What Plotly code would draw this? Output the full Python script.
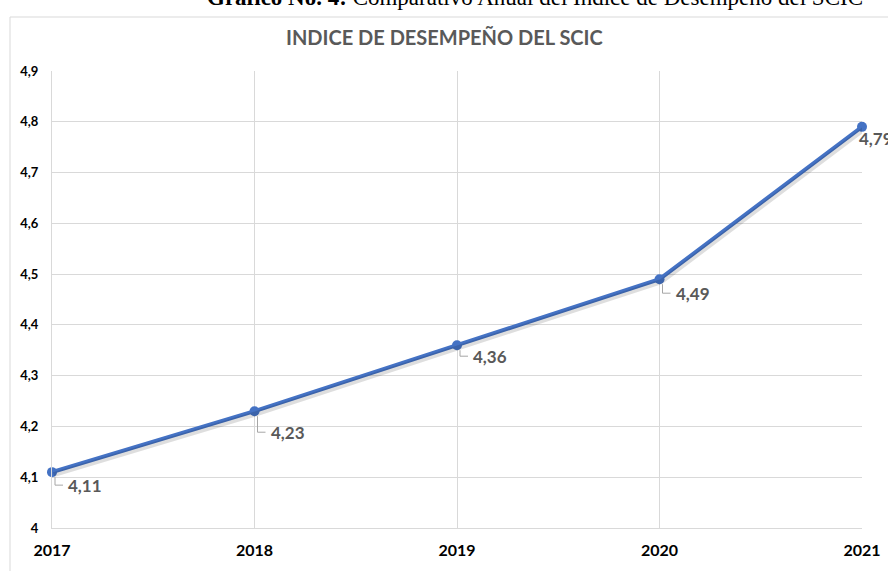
import plotly.graph_objects as go

years = [2017, 2018, 2019, 2020, 2021]
values = [4.11, 4.23, 4.36, 4.49, 4.79]
y_ticks = [4.0, 4.1, 4.2, 4.3, 4.4, 4.5, 4.6, 4.7, 4.8, 4.9]
title_text = "INDICE DE DESEMPEÑO DEL SCIC"
caption_bold = "Gráfico No. 4:"
caption_rest = " Comparativo Anual del Índice de Desempeño del SCIC"

W, H = 888, 571
ml, mr, mt, mb = 52, 26, 71, 43
pw, ph = W - ml - mr, H - mt - mb

def px_x(p):
    return (p - ml) / pw

def px_y(p):
    return (H - mb - p) / ph

font_main = "Lato, Carlito, Open Sans, sans-serif"
blue = "#4472C4"
gray_text = "#595959"
leader = "#A6A6A6"

# per-label drop (px below the point) as placed in the reference
label_drop = [13, 21, 11, 14, 12]

fig = go.Figure()
# soft shadow
fig.add_trace(go.Scatter(
    x=years, y=values, mode="lines",
    line=dict(color="rgba(0,0,0,0.13)", width=5),
    hoverinfo="skip", showlegend=False, cliponaxis=False,
    xaxis="x2", yaxis="y2"
))
fig.add_trace(go.Scatter(
    x=years, y=values, mode="lines+markers",
    line=dict(color=blue, width=4),
    marker=dict(size=10, color=blue),
    showlegend=False, cliponaxis=False
))

annotations = []
shapes = []
for i, (yr, v) in enumerate(zip(years, values)):
    lab = f"{v:.2f}".replace(".", ",")
    d = label_drop[i]
    if i < 4:
        annotations.append(dict(
            x=yr, y=v, xref="x", yref="y", text=lab,
            showarrow=False, xanchor="left", yanchor="middle",
            xshift=14, yshift=-d,
            font=dict(family=font_main, size=17, color=gray_text, weight="bold")
        ))
        shapes.append(dict(
            type="path", xref="x", yref="y", xsizemode="pixel", ysizemode="pixel",
            xanchor=yr, yanchor=v,
            path=f"M 3,-5 L 3,{-d} L 11,{-d}",
            line=dict(color=leader, width=1)
        ))
    else:
        annotations.append(dict(
            x=yr, y=v, xref="x", yref="y", text=lab,
            showarrow=False, xanchor="left", yanchor="middle",
            xshift=-5, yshift=-d,
            font=dict(family=font_main, size=17, color=gray_text, weight="bold")
        ))

annotations.append(dict(
    x=px_x(444), y=px_y(37), xref="paper", yref="paper",
    text=title_text, showarrow=False, xanchor="center", yanchor="middle",
    font=dict(family=font_main, size=20, color=gray_text, weight="bold")
))
annotations.append(dict(
    x=px_x(205), y=px_y(-2), xref="paper", yref="paper",
    text="<b>" + caption_bold + "</b>" + caption_rest, showarrow=False,
    xanchor="left", yanchor="middle",
    font=dict(family="Liberation Serif, Times New Roman, serif", size=23, color="#000000")
))

shapes.append(dict(
    type="rect", xref="paper", yref="paper",
    x0=px_x(10), x1=px_x(900), y0=px_y(580), y1=px_y(17),
    line=dict(color="#D9D9D9", width=1), fillcolor="rgba(0,0,0,0)", layer="below"
))

fig.update_layout(
    width=W, height=H,
    margin=dict(l=ml, r=mr, t=mt, b=mb, autoexpand=False),
    paper_bgcolor="white", plot_bgcolor="white",
    separators=",.",
    annotations=annotations, shapes=shapes,
    xaxis=dict(
        range=[2017, 2021], tickvals=years, ticktext=[str(y) for y in years],
        showgrid=True, gridcolor="#D9D9D9", gridwidth=1,
        showline=True, linecolor="#D9D9D9", zeroline=False,
        ticks="", ticklabelstandoff=8, automargin=False,
        tickfont=dict(family=font_main, size=16, color="#000000", weight="bold"),
    ),
    yaxis=dict(
        range=[4.0, 4.9], tickvals=y_ticks,
        showgrid=True, gridcolor="#D9D9D9", gridwidth=1,
        showline=True, linecolor="#D9D9D9", zeroline=False,
        ticks="", ticklabelstandoff=10, automargin=False,
        tickfont=dict(family=font_main, size=13, color="#000000", weight="bold"),
    ),
    xaxis2=dict(range=[2017 - 0.008, 2021 - 0.008], overlaying="x", visible=False),
    yaxis2=dict(range=[4.0 + 0.005, 4.9 + 0.005], overlaying="y", visible=False),
)

fig.write_html(
    "out.html",
    config={"displayModeBar": False},
    post_script="document.body.style.margin='0';document.body.style.padding='0';document.body.style.overflow='hidden';",
)
